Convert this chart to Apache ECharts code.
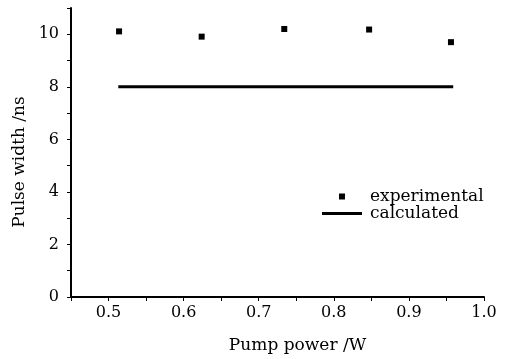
<!DOCTYPE html>
<html>
<head>
<meta charset="utf-8">
<script src="https://cdn.jsdelivr.net/npm/echarts@6/dist/echarts.min.js"></script>
<style>
  html, body { margin: 0; padding: 0; background: #fff; }
  #chart { width: 507px; height: 359px; }
</style>
</head>
<body>
<div id="chart"></div>
<script>
// measured points
const expPower = [0.514, 0.624, 0.734, 0.847, 0.956];
const expWidth = [10.11, 9.91, 10.20, 10.18, 9.70];
const calcPower = [0.513, 0.959];
const calcWidth = [8.0, 8.0];

const FONT = 'DejaVu Serif';

const chart = echarts.init(document.getElementById('chart'), null, { renderer: 'canvas' });

// legend icons: invisible move-to points keep the bounding box 43x6
const squareIcon = 'path://M0,0 M43,6 M17,0 L23,0 L23,6 L17,6 Z';
const lineIcon = 'path://M0,0 M43,6 M0,1.5 L40,1.5 L40,4.5 L0,4.5 Z';

const option = {
  backgroundColor: '#fff',
  animation: false,
  textStyle: { fontFamily: FONT, color: '#000' },
  grid: { left: 71, right: 23, top: 8, bottom: 61 },
  legend: {
    orient: 'vertical',
    left: 322,
    top: 188,
    padding: 0,
    itemWidth: 43,
    itemHeight: 6,
    itemGap: 0,
    textStyle: { fontFamily: FONT, fontSize: 17, color: '#000', lineHeight: 16 },
    data: [
      { name: 'experimental', icon: squareIcon, itemStyle: { color: '#000' } },
      { name: 'calculated', icon: lineIcon, itemStyle: { color: '#000' } }
    ]
  },
  xAxis: {
    type: 'value',
    min: 0.45,
    max: 1.0,
    interval: 0.05,
    name: 'Pump power /W',
    nameLocation: 'middle',
    nameGap: 40,
    nameTextStyle: { fontFamily: FONT, fontSize: 17, color: '#000', padding: [0, 0, 0, 40] },
    axisLine: { onZero: false, lineStyle: { color: '#000', width: 2 } },
    axisTick: { inside: false, length: 4, lineStyle: { color: '#000', width: 1 } },
    axisLabel: {
      margin: 8,
      fontFamily: FONT,
      fontSize: 16,
      color: '#000',
      formatter: v => {
        const k = Math.round(v * 100);
        return k % 10 === 0 ? (k / 100).toFixed(1) : '';
      }
    },
    splitLine: { show: false }
  },
  yAxis: {
    type: 'value',
    min: 0,
    max: 11,
    interval: 1,
    name: 'Pulse width /ns',
    nameLocation: 'middle',
    nameGap: 38,
    nameTextStyle: { fontFamily: FONT, fontSize: 17, color: '#000', padding: [0, 19, 0, 0] },
    axisLine: { show: true, lineStyle: { color: '#000', width: 2 } },
    axisTick: { show: true, inside: false, length: 4, lineStyle: { color: '#000', width: 1 } },
    axisLabel: {
      margin: 12,
      fontFamily: FONT,
      fontSize: 16,
      color: '#000',
      formatter: v => (v % 2 === 0 && v <= 10 ? String(v) : '')
    },
    splitLine: { show: false }
  },
  series: [
    {
      name: 'experimental',
      type: 'scatter',
      symbol: 'rect',
      symbolSize: 6,
      itemStyle: { color: '#000', opacity: 1 },
      data: expPower.map((x, i) => [x, expWidth[i]])
    },
    {
      name: 'calculated',
      type: 'line',
      symbol: 'none',
      showSymbol: false,
      lineStyle: { color: '#000', width: 3 },
      itemStyle: { color: '#000' },
      data: calcPower.map((x, i) => [x, calcWidth[i]])
    }
  ]
};

chart.setOption(option);
</script>
</body>
</html>
